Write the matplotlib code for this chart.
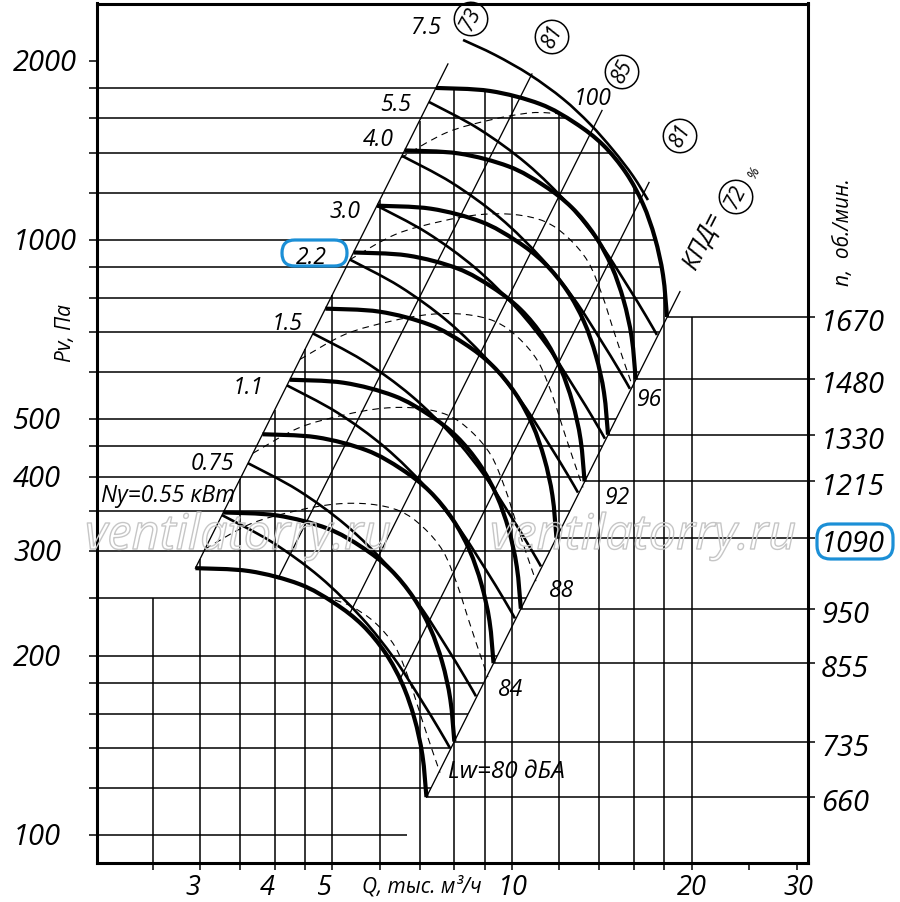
import numpy as np
import matplotlib
matplotlib.use("Agg")
import matplotlib.pyplot as plt
import matplotlib.patheffects as pe
from matplotlib import font_manager
from matplotlib.patches import FancyBboxPatch, PathPatch
from matplotlib.path import Path
from matplotlib.ticker import NullLocator


def italic_family():
    for fam in ["Open Sans", "Noto Sans", "Lato", "Liberation Sans", "DejaVu Sans"]:
        try:
            path = font_manager.findfont(
                font_manager.FontProperties(family=fam, style="italic"),
                fallback_to_default=False)
        except Exception:
            continue
        low = path.lower()
        if "italic" in low or "oblique" in low:
            return fam
    return "DejaVu Sans"


FAM = italic_family()
plt.rcParams["font.family"] = [FAM, "DejaVu Sans"]
plt.rcParams["font.style"] = "italic"

# ---- fan curves Pv(Q), Q in 1000 m3/h, Pv in Pa, one per speed
rpm = [660, 735, 855, 950, 1090, 1215, 1330, 1480, 1670]
q660 = [2.948, 3.630, 4.403, 5.041, 5.616, 6.138, 6.553, 6.861, 7.078, 7.189]
p660 = [281.1, 277.9, 264.3, 245.5, 225.5, 202.4, 179.5, 157.4, 136.4, 116.0]
q735 = [3.282, 4.043, 4.903, 5.614, 6.254, 6.835, 7.297, 7.641, 7.883, 8.006]
p735 = [348.7, 344.6, 327.8, 304.5, 279.7, 251.0, 222.6, 195.3, 169.2, 143.8]
q855 = [3.818, 4.703, 5.704, 6.530, 7.275, 7.951, 8.489, 8.888, 9.170, 9.313]
p855 = [471.8, 466.3, 443.5, 412.1, 378.5, 339.7, 301.2, 264.2, 229.0, 194.7]
q950 = [4.243, 5.226, 6.337, 7.256, 8.084, 8.834, 9.432, 9.875, 10.188, 10.348]
p950 = [582.5, 575.7, 547.5, 508.7, 467.3, 419.4, 371.8, 326.2, 282.7, 240.3]
q1090 = [4.868, 5.996, 7.271, 8.325, 9.275, 10.136, 10.822, 11.331, 11.690, 11.872]
p1090 = [766.8, 757.9, 720.8, 669.7, 615.1, 552.1, 489.5, 429.4, 372.2, 316.3]
q1215 = [5.426, 6.683, 8.105, 9.280, 10.338, 11.299, 12.063, 12.630, 13.030, 13.234]
p1215 = [952.8, 941.7, 895.6, 832.1, 764.3, 686.0, 608.2, 533.6, 462.4, 393.1]
q1330 = [5.940, 7.316, 8.872, 10.158, 11.317, 12.368, 13.205, 13.826, 14.264, 14.487]
p1330 = [1141.7, 1128.4, 1073.2, 997.1, 915.9, 822.0, 728.8, 639.3, 554.1, 471.0]
q1480 = [6.610, 8.141, 9.873, 11.304, 12.593, 13.763, 14.694, 15.385, 15.872, 16.121]
p1480 = [1413.7, 1397.2, 1328.9, 1234.7, 1134.1, 1017.9, 902.4, 791.7, 686.1, 583.2]
q1670 = [7.458, 9.186, 11.14, 12.755, 14.21, 15.53, 16.58, 17.36, 17.91, 18.19]
p1670 = [1800, 1779, 1692, 1572, 1444, 1296, 1149, 1008, 873.6, 742.6]

# ---- motor power lines Ny, kW
ny_labels = ["Ny=0.55 кВт", "0.75", "1.1", "1.5", "2.2", "3.0", "4.0", "5.5", "7.5"]
qn055 = [3.266, 3.961, 4.767, 5.606, 6.343, 7.012, 7.545, 7.872]
pn055 = [345.1, 310.9, 271.6, 231.7, 198.5, 170.1, 150.9, 140.2]
qn075 = [3.611, 4.379, 5.270, 6.197, 7.012, 7.752, 8.341, 8.703]
pn075 = [421.8, 380.0, 331.9, 283.2, 242.7, 207.9, 184.4, 171.3]
qn11 = [4.197, 5.090, 6.126, 7.204, 8.150, 9.011, 9.696, 10.116]
pn11 = [569.9, 513.4, 448.5, 382.7, 327.9, 280.9, 249.2, 231.5]
qn15 = [4.640, 5.627, 6.772, 7.964, 9.011, 9.962, 10.719, 11.184]
pn15 = [696.6, 627.5, 548.2, 467.8, 400.8, 343.3, 304.6, 283.0]
qn22 = [5.352, 6.491, 7.812, 9.186, 10.394, 11.491, 12.365, 12.901]
pn22 = [926.8, 834.9, 729.3, 622.4, 533.2, 456.7, 405.2, 376.5]
qn30 = [5.940, 7.204, 8.669, 10.195, 11.535, 12.752, 13.722, 14.317]
pn30 = [1141.5, 1028.3, 898.3, 766.5, 656.7, 562.5, 499.1, 463.7]
qn40 = [6.541, 7.933, 9.547, 11.227, 12.703, 14.044, 15.112, 15.767]
pn40 = [1384.4, 1247.1, 1089.4, 929.6, 796.5, 682.2, 605.3, 562.3]
qn55 = [7.259, 8.804, 10.596, 12.460, 14.098, 15.586, 16.771, 17.498]
pn55 = [1705.1, 1536.0, 1341.7, 1145.0, 980.9, 840.3, 745.5, 692.6]
qn75 = [8.28, 9.37, 10.72, 12.18, 13.51, 14.77, 15.95, 16.90]
pn75 = [2167, 2045, 1893, 1725, 1566, 1416, 1281, 1167]

# ---- rays of constant duty (P ~ Q^2), with efficiency marks
qray_a = [2.948, 7.81]
pray_a = [281.1, 1975]
qray_b = [4.054, 10.80]
pray_b = [270.1, 1900]
qray_c = [5.353, 14.155]
pray_c = [236.4, 1650]
qray_d = [6.493, 16.97]
pray_d = [183.1, 1249]
qray_e = [7.189, 19.12]
pray_e = [116.0, 819]
eff_labels = ["73", "81", "85", "81", "72"]

# ---- dashed curves
qd1 = [6.516, 7.752, 9.222, 10.761, 11.95]
pd1 = [1373.8, 1513.2, 1591.3, 1635.0, 1630]
qd2 = [5.352, 6.367, 7.574, 8.838, 10.117, 11.359, 12.412, 13.408, 14.153, 14.823, 15.466, 15.951]
pd2 = [926.8, 1020.9, 1073.5, 1103.0, 1103.0, 1073.5, 1009.1, 919.7, 809.7, 701.6, 617.5, 565.0]
qd3 = [4.413, 5.250, 6.245, 7.287, 8.342, 9.365, 10.234, 11.055, 11.669, 12.222, 12.752, 13.152]
pd3 = [630.1, 694.1, 729.8, 749.9, 749.9, 729.8, 686.1, 625.3, 550.5, 477.0, 419.8, 384.1]
qd4 = [3.681, 4.379, 5.209, 6.079, 6.958, 7.812, 8.537, 9.222, 9.734, 10.195, 10.637, 10.971]
pd4 = [438.4, 482.9, 507.8, 521.7, 521.7, 507.8, 477.3, 435.0, 383.0, 331.9, 292.1, 267.3]
qd5 = [3.058, 3.638, 4.328, 5.051, 5.781, 6.491, 7.093, 7.662, 8.088, 8.471, 8.838, 9.115]
pd5 = [302.6, 333.3, 350.5, 360.1, 360.1, 350.5, 329.5, 300.3, 264.4, 229.1, 201.6, 184.5]
qd6 = [5.05, 5.395, 5.895, 6.369, 6.722, 7.041, 7.346, 7.576]
pd6 = [248.5, 242.2, 227.7, 207.5, 182.7, 158.3, 139.3, 127.5]

lw_labels = ["Lw=80 дБА", "84", "88", "92", "96", "100"]
grid_p = [100, 120, 140, 160, 180, 200, 250, 300, 350, 400, 450, 500, 600,
          700, 800, 900, 1000, 1200, 1400, 1600, 1800]
grid_q = [2.5, 3, 3.5, 4, 4.5, 5, 6, 7, 8, 9, 10, 12, 14, 16, 18, 20]
tick_q = [25, 30]
y_labels = [100, 200, 300, 400, 500, 1000, 2000]
x_labels = [3, 4, 5, 10, 20, 30]

curves_q = [q660, q735, q855, q950, q1090, q1215, q1330, q1480, q1670]
curves_p = [p660, p735, p855, p950, p1090, p1215, p1330, p1480, p1670]
power_q = [qn055, qn075, qn11, qn15, qn22, qn30, qn40, qn55, qn75]
power_p = [pn055, pn075, pn11, pn15, pn22, pn30, pn40, pn55, pn75]
rays_q = [qray_a, qray_b, qray_c, qray_d, qray_e]
rays_p = [pray_a, pray_b, pray_c, pray_d, pray_e]
dash_q = [qd1, qd2, qd3, qd4, qd5, qd6]
dash_p = [pd1, pd2, pd3, pd4, pd5, pd6]

# ---- figure (pixel helpers for free text)
W, H = 900, 902
def fx(x):
    return x / W
def fy(y):
    return 1 - y / H

fig = plt.figure(figsize=(9, 9.02), dpi=100)
fig.patch.set_facecolor("white")
ax = fig.add_axes([96.7 / W, 1 - 863 / H, 711.3 / W, 859.5 / H])
ax.set_xscale("log")
ax.set_yscale("log")
ax.set_xlim(2.014, 31.34)
ax.set_ylim(89.9, 2495)
for axis in (ax.xaxis, ax.yaxis):
    axis.set_major_locator(NullLocator())
    axis.set_minor_locator(NullLocator())
for s in ax.spines.values():
    s.set_linewidth(2.2)
    s.set_zorder(6)


def smooth(q, p, **kw):
    # smooth drawing through the read points (Bezier segments in log space)
    lx, ly = np.log10(q), np.log10(p)
    n = len(lx)
    verts = [(lx[0], ly[0])]
    codes = [Path.MOVETO]
    for i in range(n - 1):
        i0, i3 = max(i - 1, 0), min(i + 2, n - 1)
        c1 = (lx[i] + (lx[i + 1] - lx[i0]) / 6, ly[i] + (ly[i + 1] - ly[i0]) / 6)
        c2 = (lx[i + 1] - (lx[i3] - lx[i]) / 6, ly[i + 1] - (ly[i3] - ly[i]) / 6)
        verts += [c1, c2, (lx[i + 1], ly[i + 1])]
        codes += [Path.CURVE4] * 3
    verts = 10 ** np.array(verts)
    ax.add_patch(PathPatch(Path(verts, codes), fill=False, **kw))


def ray_interp(lv, xs, ys):
    lx, ly = np.log10(xs), np.log10(ys)
    t = (lv - lx[0]) / (lx[1] - lx[0])
    return 10 ** (ly[0] + t * (ly[1] - ly[0]))


def right_edge(p):
    if p <= p1670[-1]:
        return ray_interp(np.log10(p), pray_e, qray_e)
    return 10 ** np.interp(np.log10(p), np.log10(p1670[::-1]), np.log10(q1670[::-1]))


def top_edge(q):
    if q < qray_a[0]:
        return 250
    if q <= q1670[0]:
        return ray_interp(np.log10(q), qray_a, pray_a)
    if q <= q1670[-1]:
        return 10 ** np.interp(np.log10(q), np.log10(q1670), np.log10(p1670))
    return p1670[-1]


q_tick_out, p_tick_out = 1.955, 87.5
gkw = dict(color="black", lw=1.1, zorder=1, clip_on=False, solid_capstyle="butt")
for p in grid_p:
    ax.plot([q_tick_out, right_edge(p)], [p, p], **gkw)
ax.plot([q_tick_out, 2.014], [2000, 2000], **gkw)
for q in grid_q:
    ax.plot([q, q], [p_tick_out, top_edge(q)], **gkw)
for q in tick_q:
    ax.plot([q, q], [p_tick_out, 89.9], **gkw)

# speed lines to the right scale
for qc, pc in zip(curves_q, curves_p):
    ax.plot([qc[-1], 32.2], [pc[-1], pc[-1]], **gkw)

for qr, pr in zip(rays_q, rays_p):
    ax.plot(qr, pr, color="black", lw=0.95, zorder=2)

for qd, pd in zip(dash_q, dash_p):
    smooth(qd, pd, ec="black", lw=0.8, ls=(0, (6, 4.5)), zorder=2)

for qn, pn in zip(power_q, power_p):
    smooth(qn, pn, ec="black", lw=1.9, zorder=3, joinstyle="round")

for qc, pc in zip(curves_q, curves_p):
    smooth(qc, pc, ec="black", lw=3.0, zorder=4, joinstyle="round", capstyle="butt")

# ---- axis numbers
for v in y_labels:
    ax.annotate(str(v), xy=(-0.1175, v), xycoords=ax.get_yaxis_transform(),
                xytext=(0, -10), textcoords="offset pixels",
                ha="left", va="baseline", fontsize=21)
x_dx = [-7, -7, -8, 0, 0, 2]
for v, dx in zip(x_labels, x_dx):
    ax.annotate(str(v), xy=(v, 0), xycoords=ax.get_xaxis_transform(),
                xytext=(dx, -32), textcoords="offset pixels",
                ha="center", va="baseline", fontsize=19.5)
for n, pc in zip(rpm, curves_p):
    ax.annotate(str(n), xy=(1.0185, pc[-1]), xycoords=ax.get_yaxis_transform(),
                xytext=(0, -14), textcoords="offset pixels",
                ha="left", va="baseline", fontsize=21)

# ---- power labels at the start of each Ny line
ny_off = [(-54, 21), (-36, 1), (-39, -1), (-26, 11), (-39, 4),
          (-32, -4), (-24, 18), (-33, -1), (-37, 14)]
for lab, qn, pn, (dx, dy) in zip(ny_labels, power_q, power_p, ny_off):
    ax.annotate(lab, xy=(qn[0], pn[0]), xytext=(dx, dy - 8),
                textcoords="offset pixels", ha="center", va="baseline",
                fontsize=16.5, zorder=7)

# ---- Lw labels
lw_pos = [(506, 778), (511, 696), (562, 597), (618, 504), (650, 406), (593, 105)]
lw_size = [17.5, 16.5, 16.5, 16.5, 16.5, 16.5]
for lab, (x, y), sz in zip(lw_labels, lw_pos, lw_size):
    fig.text(fx(x), fy(y), lab, ha="center", va="baseline", fontsize=sz)

# ---- efficiency circles
eff_pos = [(471, 19), (552, 37), (622, 72), (680, 136), (736, 197)]
for lab, (x, y) in zip(eff_labels, eff_pos):
    fig.text(fx(x), fy(y), lab, rotation=63, ha="center", va="center",
             fontsize=15, bbox=dict(boxstyle="circle,pad=0.25", fc="none",
                                    ec="black", lw=1.1))
fig.text(fx(703), fy(240), "КПД=", rotation=63, ha="center", va="center", fontsize=18)
fig.text(fx(754), fy(173), "%", rotation=63, ha="center", va="center", fontsize=10)

# ---- axis titles
fig.text(fx(362), fy(893), "Q, тыс. м³/ч", ha="left", va="baseline", fontsize=15)
fig.text(fx(66), fy(333), "Pv, Па", rotation=90, ha="center", va="center", fontsize=15)
fig.text(fx(843), fy(232), "n,  об./мин.", rotation=90, ha="center", va="center", fontsize=15)

# ---- blue highlight boxes
BLUE = "#1b8fd6"
fig.add_artist(FancyBboxPatch((fx(282), fy(266)), 65 / W, 26 / H,
                              boxstyle="round,pad=0,rounding_size=0.0142",
                              transform=fig.transFigure, fill=False, ec=BLUE, lw=2.3))
fig.add_artist(FancyBboxPatch((fx(817), fy(559)), 76 / W, 35 / H,
                              boxstyle="round,pad=0,rounding_size=0.0150",
                              transform=fig.transFigure, fill=False, ec=BLUE, lw=2.3))

# ---- watermark
for x in (85, 490):
    fig.text(fx(x), fy(549), "ventilatorry.ru", ha="left", va="baseline",
             fontsize=35, color="none",
             path_effects=[pe.Stroke(linewidth=1.0, foreground="#c6c6c6")])

fig.savefig("out.png", dpi=100, facecolor="white")
